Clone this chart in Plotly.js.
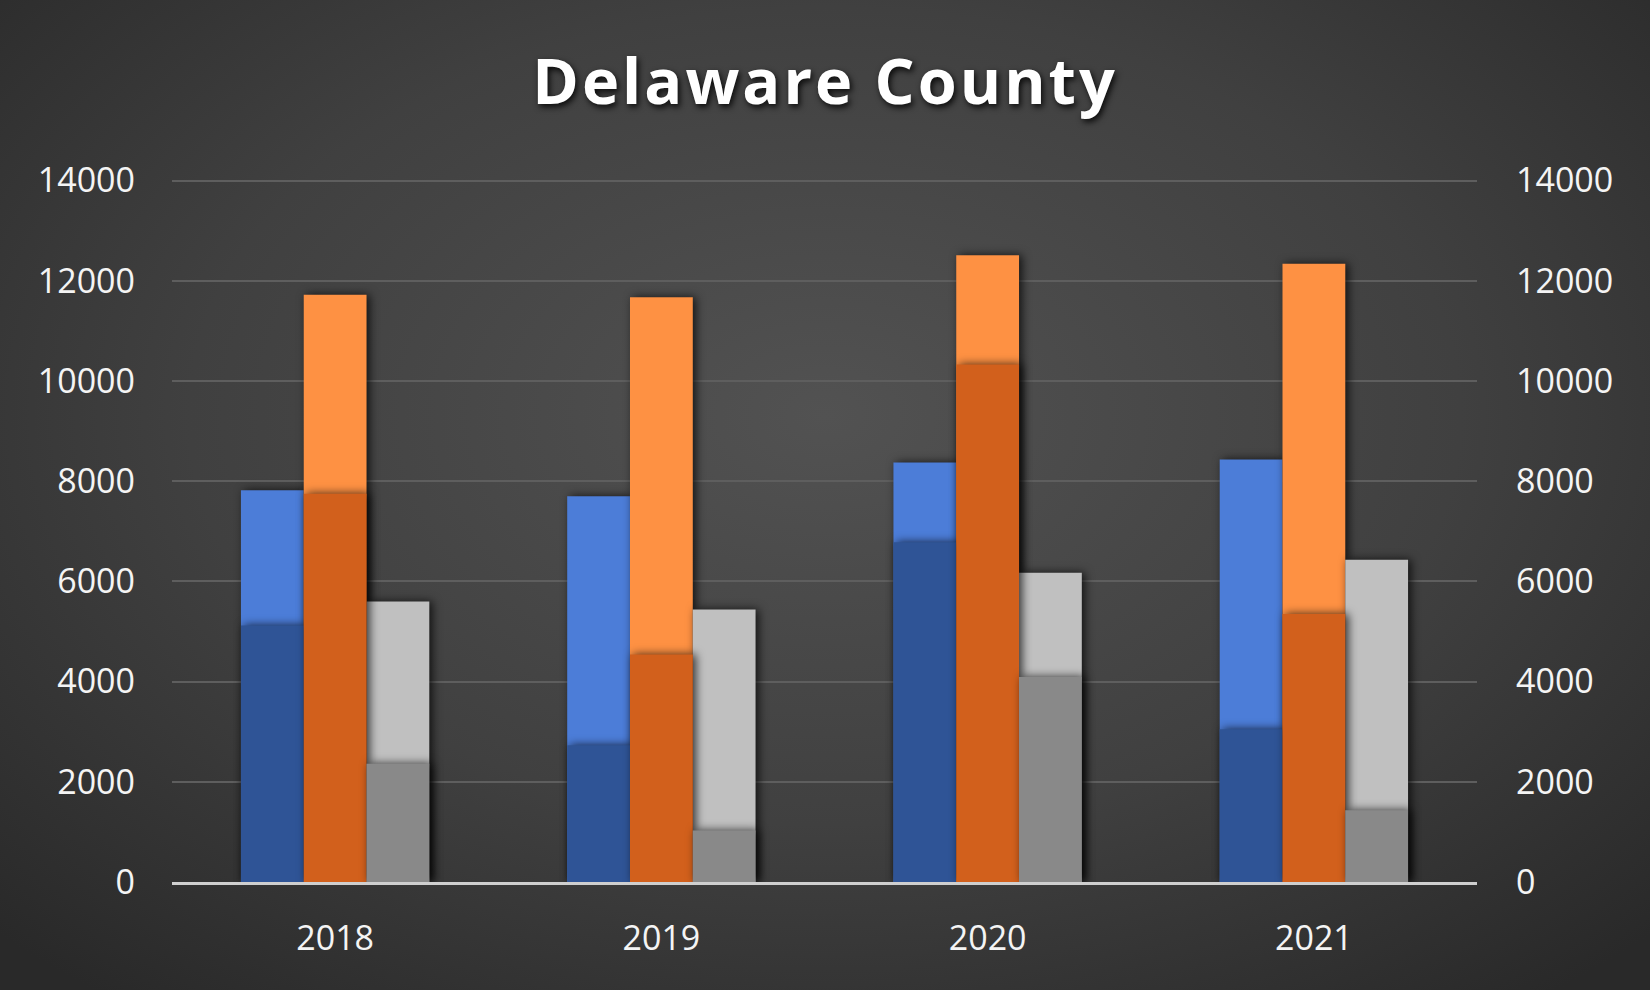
<!DOCTYPE html>
<html>
<head>
<meta charset="utf-8">
<script src="https://cdn.plot.ly/plotly-3.0.1.min.js"></script>
<style>
  html, body { margin: 0; padding: 0; width: 1650px; height: 990px; overflow: hidden; }
  body { background: radial-gradient(ellipse 70% 75% at 50% 42%, #525252 0%, #404040 55%, #292929 100%); }
  #chart { width: 1650px; height: 990px; }
  .gtitle { letter-spacing: 3px; filter: drop-shadow(2px 3px 3px rgba(0,0,0,0.85)); }
  .barlayer .trace .point path { filter: drop-shadow(3px 0px 5px rgba(0,0,0,0.75)); }
</style>
</head>
<body>
<div id="chart"></div>
<script>
const years = ['2018', '2019', '2020', '2021'];
const blueTotal   = [7820, 7700, 8370, 8430];
const blueSub     = [5120, 2730, 6780, 3050];
const orangeTotal = [11720, 11670, 12510, 12340];
const orangeSub   = [7750, 4540, 10330, 5350];
const grayTotal   = [5600, 5440, 6170, 6430];
const graySub     = [2360, 1030, 4090, 1430];
const yTicks = [0, 2000, 4000, 6000, 8000, 10000, 12000, 14000];

const W = 0.1925;
const offs = [-0.2887, -0.0962, 0.0962];

function bar(y, color, off, axis) {
  return {
    type: 'bar', x: years, y: y, width: W, offset: off,
    marker: { color: color, line: { width: 0 } },
    yaxis: axis, hoverinfo: 'skip', showlegend: false
  };
}

const data = [
  bar(blueTotal, '#4c7dd8', offs[0], 'y'),
  bar(orangeTotal, '#fe9143', offs[1], 'y'),
  bar(grayTotal, '#c0c0c0', offs[2], 'y'),
  bar(blueSub, '#2f5496', offs[0], 'y2'),
  bar(orangeSub, '#d2601c', offs[1], 'y2'),
  bar(graySub, '#898989', offs[2], 'y2')
];

const tickFont = { family: 'Open Sans, sans-serif', size: 34, color: '#f4f4f4' };
const yMax = 14030;

const layout = {
  width: 1650, height: 990,
  paper_bgcolor: 'rgba(0,0,0,0)', plot_bgcolor: 'rgba(0,0,0,0)',
  margin: { l: 172, r: 173, t: 179, b: 108 },
  barmode: 'overlay',
  title: {
    text: '<b>Delaware County</b>',
    font: { family: 'Open Sans, sans-serif', size: 63, color: '#ffffff' },
    x: 0.5, xanchor: 'center', xref: 'container',
    y: 0.917, yanchor: 'middle', yref: 'container'
  },
  xaxis: {
    type: 'category', range: [-0.5, 3.5],
    showgrid: false, zeroline: false, showline: true,
    linecolor: '#cfcfcf', linewidth: 3,
    ticks: '', tickfont: tickFont, ticklabelstandoff: 24,
    fixedrange: true
  },
  yaxis: {
    range: [0, yMax], tickvals: yTicks, ticktext: yTicks.map(String),
    showgrid: true, gridcolor: '#5e5e5e', gridwidth: 2,
    zeroline: false, showline: false, ticks: '',
    tickfont: tickFont, ticklabelstandoff: 36,
    fixedrange: true
  },
  yaxis2: {
    range: [0, yMax], tickvals: yTicks, ticktext: yTicks.map(String),
    overlaying: 'y', side: 'right',
    showgrid: false, zeroline: false, showline: false, ticks: '',
    tickfont: tickFont, ticklabelstandoff: 38,
    fixedrange: true
  }
};

Plotly.newPlot('chart', data, layout, { displayModeBar: false, staticPlot: true });
</script>
</body>
</html>
